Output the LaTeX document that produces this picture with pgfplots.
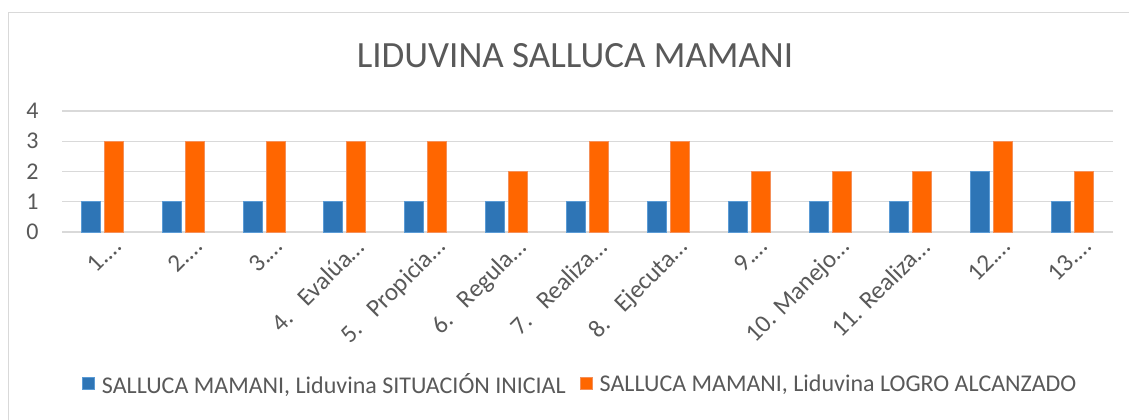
\documentclass[border=0pt]{standalone}
\usepackage{pgfplots}
\pgfplotsset{compat=1.18}
\usepackage{fontspec}
\setmainfont{Carlito}
\definecolor{txt}{HTML}{595959}
\definecolor{gridc}{HTML}{D9D9D9}
\definecolor{blueF}{HTML}{2E75B6}
\definecolor{blueE}{HTML}{5B9BD5}
\definecolor{orF}{HTML}{FF6600}
\definecolor{orE}{HTML}{F4905A}
\begin{document}
\begin{tikzpicture}[x=1bp,y=1bp]
\useasboundingbox (0,0) rectangle (1129,-419);
\fill[white] (0,0) rectangle (1129,-419);
\draw[gridc, line width=1.2bp] (8.5,-425) -- (8.5,-12.5) -- (1135,-12.5);
\node[txt, font=\fontsize{37bp}{44bp}\selectfont] at (575,-56) {LIDUVINA SALLUCA MAMANI};
\begin{axis}[
  at={(62bp,-232bp)}, anchor=south west,
  scale only axis, width=1051bp, height=121bp,
  xmin=-0.5, xmax=12.5, ymin=0, ymax=4,
  ybar=4bp, bar width=19bp,
  axis line style={draw=none},
  major tick length=0pt,
  ymajorgrids, major grid style={gridc, line width=1.3bp},
  ytick={0,1,2,3,4},
  /pgf/number format/assume math mode=true,
  yticklabel style={txt, font=\fontsize{24bp}{28bp}\selectfont, xshift=-20bp},
  xtick={0,...,12},
  xticklabels={1.…,2.…,3.…,{4.\hspace{0.7em}Evalúa…},{5.\hspace{0.7em}Propicia…},{6.\hspace{0.7em}Regula…},{7.\hspace{0.7em}Realiza…},{8.\hspace{0.7em}Ejecuta…},9.…,{10. Manejo…},{11. Realiza…},12.…,13.…},
  xticklabel style={txt, font=\fontsize{25bp}{28bp}\selectfont, rotate=45, anchor=north east, inner sep=0pt, xshift=3bp, yshift=-9bp},
  legend columns=2,
  legend style={draw=none, fill=none, at={(0.493,-1.256)}, anchor=center,
    font=\fontsize{24bp}{28bp}\selectfont, text=txt,
    /tikz/every even column/.append style={column sep=12bp},
    /tikz/every odd column/.append style={column sep=5bp}},
  legend image code/.code={\draw[#1, line width=1bp] (0bp,-6bp) rectangle (12bp,6bp);},
]
\addplot[fill=blueF, draw=blueE, line width=1bp] coordinates {(0,1) (1,1) (2,1) (3,1) (4,1) (5,1) (6,1) (7,1) (8,1) (9,1) (10,1) (11,2) (12,1)};
\addplot[fill=orF, draw=orE, line width=1bp] coordinates {(0,3) (1,3) (2,3) (3,3) (4,3) (5,2) (6,3) (7,3) (8,2) (9,2) (10,2) (11,3) (12,2)};
\legend{{SALLUCA MAMANI, Liduvina SITUACIÓN INICIAL}, {SALLUCA MAMANI, Liduvina LOGRO ALCANZADO}}
\end{axis}
\end{tikzpicture}
\end{document}
